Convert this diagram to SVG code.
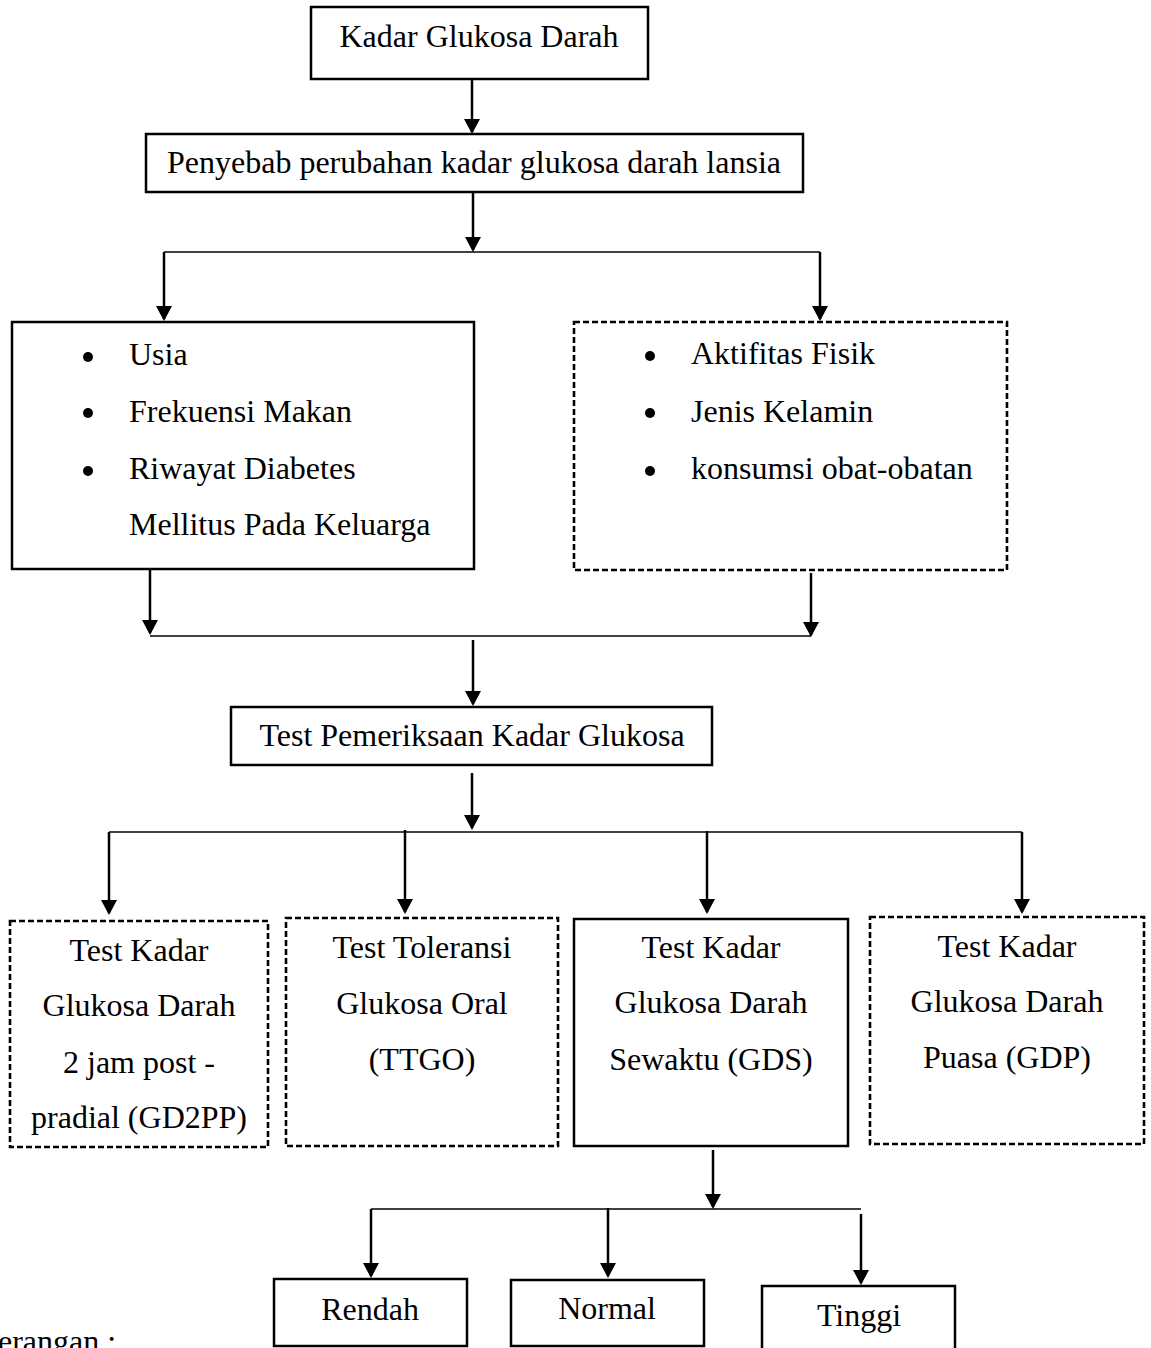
<svg xmlns="http://www.w3.org/2000/svg" width="1151" height="1348" viewBox="0 0 1151 1348">
<style>
  .box { fill: #ffffff; stroke: #000000; stroke-width: 2.5; }
  .dash { fill: #ffffff; stroke: #000000; stroke-width: 2.6; stroke-dasharray: 6 3; }
  .t { font-family: "Liberation Serif", "Times New Roman", serif; font-size: 32px; fill: #000000; }
  .c { text-anchor: middle; }
  .arr { stroke: #000000; stroke-width: 2.5; fill: none; marker-end: url(#ah); }
  .ln { stroke: #000000; stroke-width: 1.5; fill: none; }
</style>
<defs>
  <marker id="ah" viewBox="0 0 15 16" refX="13" refY="8" markerWidth="15" markerHeight="16" markerUnits="userSpaceOnUse" orient="auto">
    <path d="M0,0 L15,8 L0,16 Z" fill="#000000"/>
  </marker>
</defs>
<rect width="1151" height="1348" fill="#ffffff"/>

<g id="connectors">
  <line class="arr" x1="472" y1="79" x2="472" y2="132"/>
  <line class="arr" x1="473" y1="192" x2="473" y2="250"/>
  <line class="ln" x1="164" y1="252" x2="820" y2="252"/>
  <line class="arr" x1="164" y1="252" x2="164" y2="319"/>
  <line class="arr" x1="820" y1="252" x2="820" y2="319"/>
  <line class="arr" x1="150" y1="570" x2="150" y2="633"/>
  <line class="arr" x1="811" y1="573" x2="811" y2="635"/>
  <line class="ln" x1="150" y1="636" x2="811" y2="636"/>
  <line class="arr" x1="473" y1="640" x2="473" y2="704"/>
  <line class="arr" x1="472" y1="773" x2="472" y2="828"/>
  <line class="ln" x1="109" y1="832" x2="1022" y2="832"/>
  <line class="arr" x1="109" y1="832" x2="109" y2="913"/>
  <line class="arr" x1="405" y1="830" x2="405" y2="912"/>
  <line class="arr" x1="707" y1="831" x2="707" y2="912"/>
  <line class="arr" x1="1022" y1="832" x2="1022" y2="912"/>
  <line class="arr" x1="713" y1="1150" x2="713" y2="1207"/>
  <line class="ln" x1="371" y1="1209" x2="861" y2="1209"/>
  <line class="arr" x1="371" y1="1209" x2="371" y2="1276"/>
  <line class="arr" x1="608" y1="1208" x2="608" y2="1276"/>
  <line class="arr" x1="861" y1="1214" x2="861" y2="1283"/>
</g>

<g id="node-kadar">
  <rect class="box" x="311" y="7" width="337" height="72"/>
  <text class="t c" x="479" y="47">Kadar Glukosa Darah</text>
</g>

<g id="node-penyebab">
  <rect class="box" x="146" y="134" width="657" height="58"/>
  <text class="t c" x="474" y="173">Penyebab perubahan kadar glukosa darah lansia</text>
</g>

<g id="node-faktor-1">
  <rect class="box" x="12" y="322" width="462" height="247"/>
  <circle cx="88" cy="357" r="5"/>
  <circle cx="88" cy="413" r="5"/>
  <circle cx="88" cy="471" r="5"/>
  <text class="t" x="129" y="365">Usia</text>
  <text class="t" x="129" y="422">Frekuensi Makan</text>
  <text class="t" x="129" y="479">Riwayat Diabetes</text>
  <text class="t" x="129" y="535">Mellitus Pada Keluarga</text>
</g>

<g id="node-faktor-2">
  <rect class="dash" x="574" y="322" width="433" height="248"/>
  <circle cx="650" cy="356" r="5"/>
  <circle cx="650" cy="413" r="5"/>
  <circle cx="650" cy="471" r="5"/>
  <text class="t" x="691" y="364">Aktifitas Fisik</text>
  <text class="t" x="691" y="422">Jenis Kelamin</text>
  <text class="t" x="691" y="479">konsumsi obat-obatan</text>
</g>

<g id="node-test">
  <rect class="box" x="231" y="707" width="481" height="58"/>
  <text class="t c" x="472" y="746">Test Pemeriksaan Kadar Glukosa</text>
</g>

<g id="node-gd2pp">
  <rect class="dash" x="10" y="921" width="258" height="226"/>
  <text class="t c" x="139" y="961">Test Kadar</text>
  <text class="t c" x="139" y="1016">Glukosa Darah</text>
  <text class="t c" x="139" y="1073">2 jam post -</text>
  <text class="t c" x="139" y="1128">pradial (GD2PP)</text>
</g>

<g id="node-ttgo">
  <rect class="dash" x="286" y="918" width="272" height="228"/>
  <text class="t c" x="422" y="958">Test Toleransi</text>
  <text class="t c" x="422" y="1014">Glukosa Oral</text>
  <text class="t c" x="422" y="1070">(TTGO)</text>
</g>

<g id="node-gds">
  <rect class="box" x="574" y="919" width="274" height="227"/>
  <text class="t c" x="711" y="958">Test Kadar</text>
  <text class="t c" x="711" y="1013">Glukosa Darah</text>
  <text class="t c" x="711" y="1070">Sewaktu (GDS)</text>
</g>

<g id="node-gdp">
  <rect class="dash" x="870" y="917" width="274" height="227"/>
  <text class="t c" x="1007" y="957">Test Kadar</text>
  <text class="t c" x="1007" y="1012">Glukosa Darah</text>
  <text class="t c" x="1007" y="1068">Puasa (GDP)</text>
</g>

<g id="node-rendah">
  <rect class="box" x="274" y="1279" width="193" height="67"/>
  <text class="t c" x="370" y="1320">Rendah</text>
</g>

<g id="node-normal">
  <rect class="box" x="511" y="1280" width="193" height="66"/>
  <text class="t c" x="607" y="1319">Normal</text>
</g>

<g id="node-tinggi">
  <rect class="box" x="762" y="1286" width="193" height="80"/>
  <text class="t c" x="859" y="1326">Tinggi</text>
</g>

<text class="t" x="-2" y="1352">erangan :</text>
</svg>
